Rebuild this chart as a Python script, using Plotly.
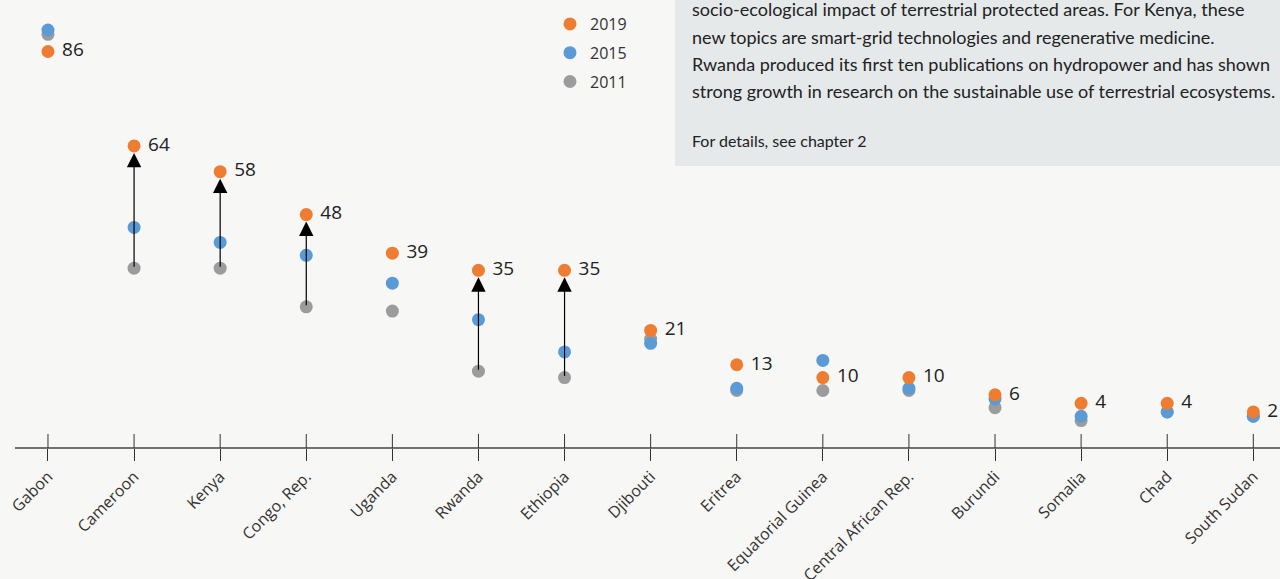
import plotly.graph_objects as go

countries = ["Gabon", "Cameroon", "Kenya", "Congo, Rep.", "Uganda", "Rwanda", "Ethiopia",
             "Djibouti", "Eritrea", "Equatorial Guinea", "Central African Rep.", "Burundi",
             "Somalia", "Chad", "South Sudan"]
v2019 = [86, 64, 58, 48, 39, 35, 35, 21, 13, 10, 10, 6, 4, 4, 2]
v2015 = [91, 45, 41.5, 38.5, 32, 23.5, 16, 18, 7.5, 14, 7.5, 5, 1, 2, 1]
v2011 = [90, 35.5, 35.5, 26.5, 25.5, 11.5, 10, 19, 7, 7, 7, 3, 0, 2, 1]
arrow_countries = ["Cameroon", "Kenya", "Congo, Rep.", "Rwanda", "Ethiopia"]

box_lines = [
    "socio-ecological impact of terrestrial protected areas. For Kenya, these",
    "new topics are smart-grid technologies and regenerative medicine.",
    "Rwanda produced its first ten publications on hydropower and has shown",
    "strong growth in research on the sustainable use of terrestrial ecosystems.",
]
box_footer = "For details, see chapter 2"

C19, C15, C11 = "#EE7D31", "#5B9BD5", "#9C9C9C"
BG = "#F7F7F5"
W, H = 1280, 579
PL, PT, PB = 15, 0, 131
ph = H - PT - PB
pw = W - PL

xs = list(range(len(countries)))

fig = go.Figure()
fig.add_trace(go.Scatter(x=xs, y=v2019, mode="markers+text", name="2019", legendgroup="a",
                         zorder=3,
                         marker=dict(size=13, color=C19),
                         text=[" " + str(v) for v in v2019], textposition="middle right",
                         textfont=dict(family="Open Sans", size=19, color="#222222"),
                         hoverinfo="skip"))
fig.add_trace(go.Scatter(x=xs, y=v2015, mode="markers", name="2015", legendgroup="b", zorder=2,
                         marker=dict(size=13, color=C15), hoverinfo="skip"))
fig.add_trace(go.Scatter(x=xs, y=v2011, mode="markers", name="2011", legendgroup="c", zorder=1,
                         marker=dict(size=13, color=C11), hoverinfo="skip"))

annotations = []
for i, c in enumerate(countries):
    if c in arrow_countries:
        annotations.append(dict(x=i, y=v2019[i], ax=i, ay=v2011[i], xref="x", yref="y",
                                axref="x", ayref="y", text="", showarrow=True,
                                arrowhead=2, arrowsize=2.4, arrowwidth=1.2,
                                arrowcolor="#000000", standoff=7, startstandoff=0))

def py(px):
    return 1 - (px - PT) / ph

def px_x(px):
    return (px - PL) / pw

box_y = [9, 37, 64, 91]
for t, yy in zip(box_lines, box_y):
    annotations.append(dict(x=px_x(690), y=py(yy), xref="paper", yref="paper", text=t,
                            showarrow=False, xanchor="left", yanchor="middle",
                            font=dict(family="Lato", size=18, color="#222222")))
annotations.append(dict(x=px_x(690), y=py(141), xref="paper", yref="paper", text=box_footer,
                        showarrow=False, xanchor="left", yanchor="middle",
                        font=dict(family="Lato", size=16, color="#222222")))

shapes = [dict(type="rect", xref="paper", yref="paper", x0=px_x(675), x1=1.02,
               y0=py(166), y1=1.1, fillcolor="#E5E9EA", line=dict(width=0), layer="below"),
          dict(type="line", xref="paper", yref="paper", x0=0, x1=1, y0=0, y1=0,
               line=dict(color="#444444", width=1.3))]
for i in xs:
    shapes.append(dict(type="line", xref="x", yref="paper", x0=i, x1=i, y0=0, y1=14 / ph,
                       line=dict(color="#333333", width=1)))

fig.update_layout(
    width=W, height=H,
    margin=dict(l=PL, r=0, t=PT, b=PB, pad=0, autoexpand=False),
    paper_bgcolor=BG, plot_bgcolor="rgba(0,0,0,0)",
    showlegend=True,
    legend=dict(x=px_x(550), y=py(7), xanchor="left", yanchor="top",
                traceorder="grouped", tracegroupgap=5,
                font=dict(family="Open Sans", size=16, color="#333333"),
                bgcolor="rgba(0,0,0,0)"),
    annotations=annotations,
    shapes=shapes,
    xaxis=dict(range=[-0.383, 14.31], tickmode="array", tickvals=xs, ticktext=countries,
               tickangle=-45, ticks="outside", ticklen=12, tickcolor="#333333",
               automargin=False,
               showline=False, showgrid=False, zeroline=False,
               tickfont=dict(family="Open Sans", size=16, color="#333333")),
    yaxis=dict(range=[-6.4, 98.0], visible=False, showgrid=False, zeroline=False,
               automargin=False),
)

fig.write_html("out.html", config={"displayModeBar": False},
               post_script="document.body.style.margin='0';document.body.style.overflow='hidden';")
